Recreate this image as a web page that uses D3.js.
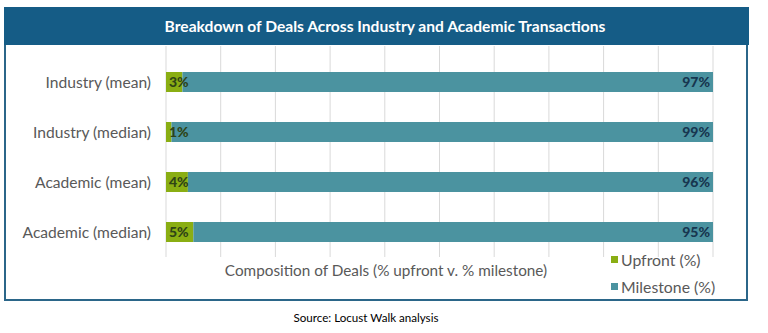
<!DOCTYPE html>
<html><head><meta charset="utf-8">
<script src="https://cdn.jsdelivr.net/npm/d3@7"></script>
<style>body{margin:0;background:#fff}svg{display:block}</style>
</head><body>
<script>
const categories = ["Industry (mean)", "Industry (median)", "Academic (mean)", "Academic (median)"];
const upfront = [3, 1, 4, 5];
const milestone = [97, 99, 96, 95];
const seriesNames = ["Upfront (%)", "Milestone (%)"];
const xTicks = [0,10,20,30,40,50,60,70,80,90,100];
const title = "Breakdown of Deals Across Industry and Academic Transactions";
const xTitle = "Composition of Deals (% upfront v. % milestone)";
const source = "Source: Locust Walk analysis";

const W = 768, H = 333;
const font = "Lato, 'Open Sans', sans-serif";
const svg = d3.select("body").append("svg").attr("width", W).attr("height", H);

// frame
svg.append("rect").attr("x",5).attr("y",8).attr("width",742).attr("height",292)
  .attr("fill","#fff").attr("stroke","#2b6689").attr("stroke-width",2);
svg.append("rect").attr("x",4).attr("y",7).attr("width",745).attr("height",38).attr("fill","#155c86");
svg.append("text").attr("x",385).attr("y",31.5).attr("text-anchor","middle")
  .attr("font-family",font).attr("font-weight","bold").attr("font-size",15.6).attr("fill","#fff")
  .text(title);

const x = d3.scaleLinear().domain([0,100]).range([166,713]);
const y = d3.scaleBand().domain(categories).range([57,257]).paddingInner(0.6).paddingOuter(0.3);

// gridlines
svg.append("g").selectAll("line").data(xTicks).join("line")
  .attr("x1",d=>x(d)).attr("x2",d=>x(d)).attr("y1",46).attr("y2",257)
  .attr("stroke","#d9d9d9").attr("stroke-width",1);

const data = categories.map((c,i)=>({cat:c, up:upfront[i], ms:milestone[i]}));
const g = svg.append("g");
g.selectAll(".up").data(data).join("rect")
  .attr("x",x(0)).attr("y",d=>y(d.cat)).attr("width",d=>x(d.up)-x(0)).attr("height",y.bandwidth())
  .attr("fill","#8aae13");
g.selectAll(".ms").data(data).join("rect")
  .attr("x",d=>x(d.up)).attr("y",d=>y(d.cat)).attr("width",d=>x(d.up+d.ms)-x(d.up)).attr("height",y.bandwidth())
  .attr("fill","#4b93a0");

g.selectAll(".lu").data(data).join("text")
  .attr("x",x(0)+3).attr("y",d=>y(d.cat)+y.bandwidth()/2+5)
  .attr("font-family",font).attr("font-weight","900").attr("font-size",14).attr("fill","#2f4416")
  .text(d=>d.up+"%");
g.selectAll(".lm").data(data).join("text")
  .attr("x",x(100)-3).attr("y",d=>y(d.cat)+y.bandwidth()/2+5).attr("text-anchor","end")
  .attr("font-family",font).attr("font-weight","900").attr("font-size",14).attr("fill","#17364f")
  .text(d=>d.ms+"%");

// category labels
svg.append("g").selectAll("text").data(categories).join("text")
  .attr("x",151).attr("y",d=>y(d)+y.bandwidth()/2+5.5).attr("text-anchor","end")
  .attr("font-family",font).attr("font-size",15.6).attr("fill","#595959").text(d=>d);

svg.append("text").attr("x",386).attr("y",276).attr("text-anchor","middle")
  .attr("font-family",font).attr("font-size",15.3).attr("fill","#595959").text(xTitle);

// legend
const colors = ["#8aae13","#4b93a0"];
const lg = svg.append("g").selectAll("g").data(seriesNames).join("g")
  .attr("transform",(d,i)=>`translate(611,${256+i*27})`);
lg.append("rect").attr("width",7).attr("height",7).attr("fill",(d,i)=>colors[i]);
lg.append("text").attr("x",10).attr("y",10).attr("font-family",font).attr("font-size",15.8)
  .attr("fill","#595959").text(d=>d);

svg.append("text").attr("x",366).attr("y",322).attr("text-anchor","middle")
  .attr("font-family",font).attr("font-size",11.6).attr("fill","#000").text(source);
</script>
</body></html>
